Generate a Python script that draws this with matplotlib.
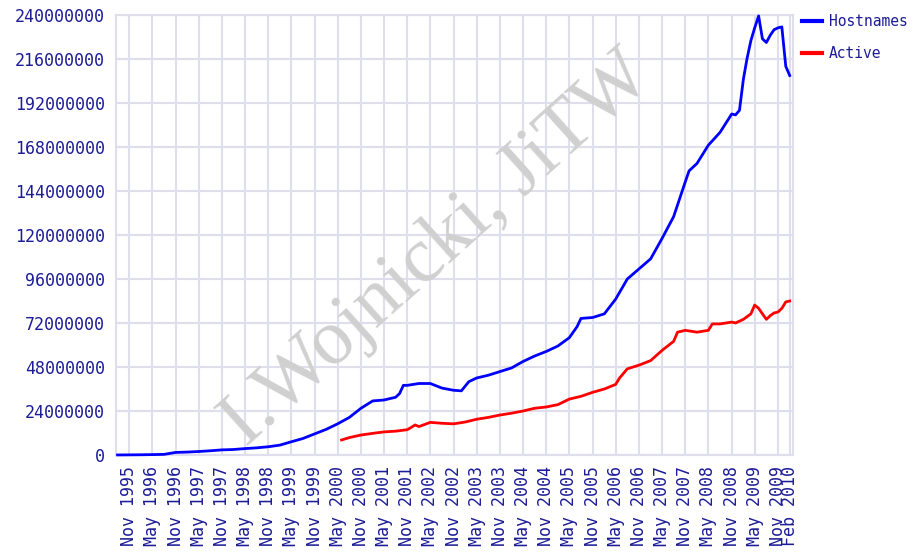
import matplotlib
matplotlib.use("Agg")
import matplotlib.pyplot as plt
import pandas as pd

# Hostnames (millions)
host_months = [
    "1995-08", "1995-11", "1996-02", "1996-05", "1996-08", "1996-11",
    "1997-02", "1997-05", "1997-08", "1997-11", "1998-02", "1998-05",
    "1998-08", "1998-11", "1999-02", "1999-05", "1999-08", "1999-11",
    "2000-02", "2000-05", "2000-08", "2000-11", "2001-02", "2001-05",
    "2001-08", "2001-09", "2001-10", "2001-11", "2002-02", "2002-05",
    "2002-08", "2002-11", "2003-01", "2003-03", "2003-05", "2003-08",
    "2003-11", "2004-02", "2004-05", "2004-08", "2004-11", "2005-02",
    "2005-05", "2005-07", "2005-08", "2005-11", "2006-02", "2006-05",
    "2006-08", "2006-11", "2007-02", "2007-05", "2007-08", "2007-11",
    "2007-12", "2008-02", "2008-05", "2008-08", "2008-11", "2008-12",
    "2009-01", "2009-02", "2009-03", "2009-04", "2009-05", "2009-06",
    "2009-07", "2009-08", "2009-09", "2009-10", "2009-11", "2009-12",
    "2010-01", "2010-02",
]
host_values = [
    0.02, 0.07, 0.12, 0.22, 0.34, 1.4,
    1.6, 1.9, 2.3, 2.8, 3.0, 3.5,
    3.9, 4.5, 5.4, 7.2, 9.0, 11.5,
    14.0, 17.0, 20.5, 25.5, 29.5, 30.0,
    31.5, 33.5, 38.0, 38.0, 39.0, 39.0,
    36.5, 35.3, 35.0, 40.0, 42.0, 43.5,
    45.5, 47.5, 51.0, 54.0, 56.5, 59.5,
    64.0, 70.0, 74.5, 75.0, 77.0, 85.0,
    96.0, 101.5, 107.0, 118.0, 130.0, 149.0,
    155.0, 159.0, 169.0, 176.0, 186.0, 185.5,
    188.0, 205.0, 216.0, 226.0, 233.0, 239.5,
    227.0, 225.0, 229.0, 232.0, 233.0, 233.5,
    212.0, 207.0,
]

# Active sites (millions)
active_months = [
    "2000-06", "2000-08", "2000-11", "2001-02", "2001-05", "2001-08",
    "2001-11", "2001-12", "2002-01", "2002-02", "2002-05", "2002-08",
    "2002-11", "2003-02", "2003-05", "2003-08", "2003-11", "2004-02",
    "2004-05", "2004-08", "2004-11", "2005-02", "2005-05", "2005-08",
    "2005-11", "2006-02", "2006-05", "2006-06", "2006-08", "2006-11",
    "2007-02", "2007-05", "2007-08", "2007-09", "2007-11", "2008-02",
    "2008-05", "2008-06", "2008-08", "2008-11", "2008-12", "2009-02",
    "2009-04", "2009-05", "2009-06", "2009-07", "2009-08", "2009-09",
    "2009-10", "2009-11", "2009-12", "2010-01", "2010-02",
]
active_values = [
    8.2, 9.5, 10.9, 11.8, 12.6, 13.0,
    13.8, 15.0, 16.4, 15.5, 17.8, 17.3,
    17.0, 18.0, 19.5, 20.5, 21.8, 22.8,
    24.0, 25.5, 26.2, 27.5, 30.5, 32.0,
    34.2, 36.0, 38.5, 42.0, 47.0, 49.0,
    51.5, 57.0, 62.0, 67.0, 68.0, 67.0,
    68.0, 71.5, 71.5, 72.5, 72.0, 74.0,
    77.0, 81.8, 80.0, 77.0, 74.0, 76.0,
    77.5, 78.0, 80.0, 83.5, 84.0,
]

tick_months = ["1995-11", "1996-05", "1996-11", "1997-05", "1997-11", "1998-05",
               "1998-11", "1999-05", "1999-11", "2000-05", "2000-11", "2001-05",
               "2001-11", "2002-05", "2002-11", "2003-05", "2003-11", "2004-05",
               "2004-11", "2005-05", "2005-11", "2006-05", "2006-11", "2007-05",
               "2007-11", "2008-05", "2008-11", "2009-05", "2009-11", "2010-02"]
y_ticks = [0, 24, 48, 72, 96, 120, 144, 168, 192, 216, 240]

navy = "#1c1c96"
grid_col = "#dedeec"

host_x = pd.to_datetime(host_months)
act_x = pd.to_datetime(active_months)
tick_x = pd.to_datetime(tick_months)

fig = plt.figure(figsize=(9.14, 5.52), dpi=100)
ax = fig.add_axes([116 / 914, 1 - 455 / 552, (793 - 116) / 914, 440 / 552])

ax.plot(host_x, [v * 1e6 for v in host_values], color="#0000ff", lw=2.0,
        label="Hostnames", zorder=4, clip_on=False)
ax.plot(act_x, [v * 1e6 for v in active_values], color="#ff0000", lw=2.0,
        label="Active", zorder=4)

ax.set_ylim(0, 240e6)
ax.set_xlim(pd.Timestamp("1995-07-20"), pd.Timestamp("2010-02-27"))
ax.set_yticks([t * 1e6 for t in y_ticks])
ax.set_yticklabels([str(t * 1000000) for t in y_ticks])
ax.set_xticks(tick_x)
ax.set_xticklabels([d.strftime("%b %Y") for d in tick_x], rotation=90)

ax.grid(True, color=grid_col, lw=1.5, zorder=0)
ax.set_axisbelow(True)
for s in ax.spines.values():
    s.set_color(grid_col)
    s.set_linewidth(1.5)
ax.tick_params(length=0, colors=navy)
for lab in ax.get_xticklabels() + ax.get_yticklabels():
    lab.set_family("DejaVu Sans Mono")
    lab.set_fontsize(12)
ax.tick_params(axis="y", pad=8)
ax.tick_params(axis="x", pad=8)

# watermark
fig.text(0.478, 0.548, "I.Wojnicki, JiTW", family="Liberation Serif", fontsize=57,
         color="#d0d0d0", rotation=42, ha="center", va="center", zorder=3)

leg = fig.legend(loc="upper left", bbox_to_anchor=(802 / 914, 1 - 14 / 552),
                 frameon=False, borderpad=0, borderaxespad=0,
                 handlelength=1.4, handletextpad=0.45, labelspacing=1.2,
                 prop={"family": "DejaVu Sans Mono", "size": 10.5})
for t in leg.get_texts():
    t.set_color(navy)
for h in leg.legend_handles:
    h.set_linewidth(3)

fig.savefig("out.png", dpi=100)
